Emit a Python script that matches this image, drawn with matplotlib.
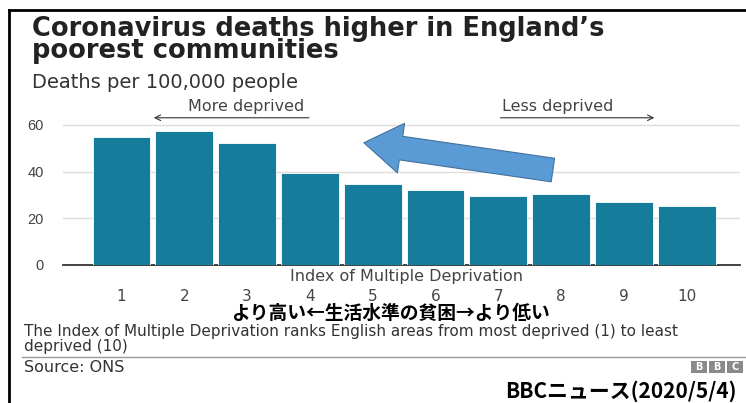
import matplotlib.pyplot as plt
from matplotlib.lines import Line2D
import matplotlib.patches as mpatches

# data
deciles = [1, 2, 3, 4, 5, 6, 7, 8, 9, 10]
deaths = [55.0, 57.5, 52.4, 39.5, 34.7, 32.1, 29.6, 30.3, 27.0, 25.3]
y_ticks = [0, 20, 40, 60]

W, H = 746, 403
fig = plt.figure(figsize=(W / 100, H / 100), dpi=100)
plt.rcParams['font.family'] = ['DejaVu Sans']
jp = ['Noto Sans CJK JP', 'DejaVu Sans']


def fx(px):
    return px / W


def fy(py):
    return 1 - py / H


# black frame (left + top)
fig.add_artist(Line2D([fx(9), fx(9)], [fy(10), 0], color='black', lw=2))
fig.add_artist(Line2D([fx(9), 1], [fy(10), fy(10)], color='black', lw=2))

# titles
fig.text(fx(32), fy(16), "Coronavirus deaths higher in England\u2019s\npoorest communities",
         fontsize=18.5, fontweight='bold', color='#222222', va='top',
         linespacing=0.8)
fig.text(fx(32), fy(83), "Deaths per 100,000 people",
         fontsize=14, color='#333333', va='center')

ax = fig.add_axes([fx(63), fy(265), fx(740) - fx(63), fy(118) - fy(265)])
ax.bar(deciles, deaths, width=0.92, color='#157c9b', edgecolor='white',
       linewidth=0.6, zorder=3)
ax.set_xlim(0.068, 10.85)
ax.set_ylim(0, 63)
ax.set_yticks(y_ticks)
ax.set_yticklabels([str(t) for t in y_ticks])
ax.tick_params(axis='y', length=0, pad=14, labelsize=10.5, labelcolor='#444444')
for lab in ax.get_yticklabels():
    lab.set_family('Liberation Sans')
ax.set_xticks([])
for s in ['top', 'right', 'left']:
    ax.spines[s].set_visible(False)
ax.spines['bottom'].set_color('#333333')
ax.spines['bottom'].set_linewidth(1.3)
ax.grid(axis='y', color='#dddddd', lw=1, zorder=0)
ax.set_axisbelow(True)

# x labels below the axis
fig.text(fx(406), fy(277), "Index of Multiple Deprivation", ha='center',
         va='center', fontsize=11.5, color='#444444')
for d in deciles:
    ax.text(d, -13.3, str(d), ha='center', va='center', fontsize=11,
            color='#444444')

# direction annotations
ax.text(2.99, 67.8, "More deprived", ha='center', va='center', fontsize=11.5,
        color='#444444', clip_on=False)
ax.annotate("", xy=(1.47, 63.1), xytext=(4.03, 63.1),
            arrowprops=dict(arrowstyle='->', color='#333333', lw=0.8),
            annotation_clip=False)
ax.text(7.95, 67.8, "Less deprived", ha='center', va='center', fontsize=11.5,
        color='#444444', clip_on=False)
ax.annotate("", xy=(9.53, 63.1), xytext=(6.99, 63.1),
            arrowprops=dict(arrowstyle='->', color='#333333', lw=0.8),
            annotation_clip=False)

# big blue arrow overlay
ax.annotate("", xy=(4.86, 52.4), xytext=(7.87, 40.7),
            arrowprops=dict(arrowstyle='simple,head_length=0.6,head_width=0.8,tail_width=0.38',
                            mutation_scale=45, fc='#5b9bd5', ec='#41719c',
                            lw=0.8, shrinkA=0, shrinkB=0),
            zorder=5)

# japanese caption
fig.text(fx(390), fy(313.5), "より高い←生活水準の貧困→より低い", family=jp,
         fontweight='bold', fontsize=13.5, ha='center', va='center', color='black')

# footnote
fig.text(fx(24), fy(331.5),
         "The Index of Multiple Deprivation ranks English areas from most deprived (1) to least",
         fontsize=11, color='#333333', va='center')
fig.text(fx(24), fy(346), "deprived (10)", fontsize=11, color='#333333',
         va='center')
fig.add_artist(Line2D([fx(22), 1], [fy(357), fy(357)], color='#999999', lw=1))
fig.text(fx(24), fy(367), "Source: ONS", fontsize=11.5, color='#333333',
         va='center')

# BBC blocks
for i, ch in enumerate("BBC"):
    x0 = 691 + i * 18
    fig.add_artist(mpatches.Rectangle((fx(x0), fy(373)), fx(16), fy(361) - fy(373),
                                      transform=fig.transFigure, fc='#8a8a8a', ec='none'))
    fig.text(fx(x0 + 8), fy(367), ch, fontsize=7, fontweight='bold',
             color='white', ha='center', va='center')

fig.text(fx(737), fy(391), "BBCニュース(2020/5/4)", family=jp, fontweight='bold',
         fontsize=15, ha='right', va='center', color='black')

fig.savefig("out.png", dpi=100)
